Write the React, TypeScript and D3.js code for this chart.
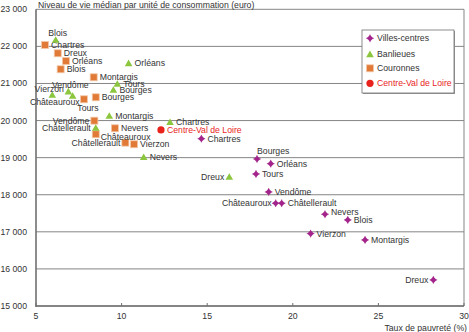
import React from "react";
import * as d3 from "d3";

// [name, taux de pauvreté (%), niveau de vie médian (euro)]
const villesCentres: [string, number, number][] = [
  ["Chartres", 14.66, 19512],
  ["Bourges", 17.91, 18965],
  ["Orléans", 18.71, 18838],
  ["Tours", 17.85, 18561],
  ["Vendôme", 18.59, 18076],
  ["Châteauroux", 19.0, 17771],
  ["Châtellerault", 19.35, 17771],
  ["Nevers", 21.88, 17474],
  ["Blois", 23.21, 17321],
  ["Vierzon", 21.04, 16952],
  ["Montargis", 24.22, 16782],
  ["Dreux", 28.21, 15704],
];

const banlieues: [string, number, number][] = [
  ["Blois", 6.15, 22173],
  ["Orléans", 10.41, 21544],
  ["Tours", 9.75, 20987],
  ["Bourges", 9.52, 20825],
  ["Vierzon", 5.95, 20690],
  ["Vendôme", 6.89, 20779],
  ["Châteauroux", 7.14, 20663],
  ["Montargis", 9.28, 20124],
  ["Châtellerault", 8.49, 19800],
  ["Nevers", 11.29, 19011],
  ["Chartres", 12.83, 19954],
  ["Dreux", 16.29, 18480],
];

const couronnes: [string, number, number][] = [
  ["Chartres", 5.53, 22038],
  ["Dreux", 6.27, 21814],
  ["Orléans", 6.75, 21606],
  ["Blois", 6.44, 21383],
  ["Montargis", 8.37, 21167],
  ["Tours", 7.8, 20574],
  ["Bourges", 8.49, 20628],
  ["Vendôme", 8.41, 19997],
  ["Châteauroux", 8.49, 19631],
  ["Nevers", 9.61, 19792],
  ["Châtellerault", 10.22, 19404],
  ["Vierzon", 10.73, 19361],
];

const region: [string, number, number][] = [["Centre-Val de Loire", 12.3, 19747]];

const xTicks = [5, 10, 15, 20, 25, 30];
const yTicks = [15000, 16000, 17000, 18000, 19000, 20000, 21000, 22000, 23000];

const legendLabels = ["Villes-centres", "Banlieues", "Couronnes", "Centre-Val de Loire"];

// label placement overrides: [dx, dy, anchor]
const labelDefault: [number, number, string] = [6, 0, "start"];
const labelVilles: Record<string, [number, number, string]> = {
  Bourges: [0, -8, "start"],
  Châteauroux: [-4, 0, "end"],
  Dreux: [-5, 0, "end"],
  Nevers: [6, -2, "start"],
};
const labelBanlieues: Record<string, [number, number, string]> = {
  Blois: [2, -7, "middle"],
  Vierzon: [-3, -6, "middle"],
  Vendôme: [2, -7, "middle"],
  Châteauroux: [7, 6, "end"],
  Châtellerault: [-5, 0, "end"],
  Dreux: [-5, 0, "end"],
};
const labelCouronnes: Record<string, [number, number, string]> = {
  Tours: [4, 8.5, "middle"],
  Vendôme: [-5, 0, "end"],
  Châteauroux: [5, 2.5, "start"],
  Châtellerault: [-5, 0.5, "end"],
};

const W = 469;
const H = 332;
const FONT = "'Liberation Sans', Arial, sans-serif";
const FS = 8.7;
const C_VILLE = "#a3268c";
const C_BANL = "#8cc63e";
const C_COUR = "#e07a36";
const C_REG = "#e8231c";

const x = d3.scaleLinear().domain([5, 30]).range([36, 464]);
const y = d3.scaleLinear().domain([15000, 23000]).range([306, 9.3]);

const fmt = (v: number) => d3.format(",")(v).replace(",", " ");

function VilleMarker({ cx, cy }: { cx: number; cy: number }) {
  const r = 3.3;
  const a = 3.8;
  return (
    <g>
      <path d={`M${cx},${cy - r}L${cx + r},${cy}L${cx},${cy + r}L${cx - r},${cy}Z`} fill={C_VILLE} />
      <path
        d={`M${cx - a},${cy}L${cx + a},${cy}M${cx},${cy - a}L${cx},${cy + a}`}
        stroke={C_VILLE}
        strokeWidth={0.8}
      />
    </g>
  );
}

function BanlMarker({ cx, cy }: { cx: number; cy: number }) {
  const s = 3.8;
  return (
    <path
      d={`M${cx},${cy - s}L${cx + s},${cy + s * 0.75}L${cx - s},${cy + s * 0.75}Z`}
      fill={C_BANL}
    />
  );
}

function CourMarker({ cx, cy }: { cx: number; cy: number }) {
  const s = 3.5;
  return (
    <rect x={cx - s} y={cy - s} width={2 * s} height={2 * s} fill={C_COUR} stroke="#f3c8a8" strokeWidth={0.8} />
  );
}

function RegMarker({ cx, cy }: { cx: number; cy: number }) {
  return <circle cx={cx} cy={cy} r={3.6} fill={C_REG} />;
}

function Series({
  data,
  Marker,
  labels,
  color,
}: {
  data: [string, number, number][];
  Marker: any;
  labels: Record<string, [number, number, string]>;
  color: string;
}) {
  return (
    <g>
      {data.map(([n, vx, vy]) => {
        const cx = x(vx);
        const cy = y(vy);
        return <Marker key={"m" + n} cx={cx} cy={cy} />;
      })}
      {data.map(([n, vx, vy]) => {
        const cx = x(vx);
        const cy = y(vy);
        const [dx, dy, anchor] = labels[n] || labelDefault;
        return (
          <text
            key={"t" + n}
            x={cx + dx}
            y={cy + dy + 3.1}
            textAnchor={anchor as any}
            fill={color}
            fontSize={FS}
          >
            {n}
          </text>
        );
      })}
    </g>
  );
}

export default function App() {
  const [x0, x1] = x.range();
  const legendRows = [38.3, 54.3, 68.3, 83.3];
  const legendMarkers = [VilleMarker, BanlMarker, CourMarker, RegMarker];
  return (
    <svg
      width={W}
      height={H}
      style={{ position: "absolute", left: 0, top: 0, background: "#fff" }}
      fontFamily={FONT}
    >
      {/* gridlines */}
      {yTicks.map((t) => (
        <line key={t} x1={x0} x2={x1} y1={y(t)} y2={y(t)} stroke="#858585" strokeWidth={1} />
      ))}
      <line x1={x1} x2={x1} y1={y(23000)} y2={y(15000)} stroke="#858585" strokeWidth={1} />
      {/* axes */}
      <line x1={x0} x2={x0} y1={y(23000)} y2={y(15000) + 1} stroke="#707070" strokeWidth={1.6} />
      <line x1={x0} x2={x1} y1={y(15000)} y2={y(15000)} stroke="#707070" strokeWidth={1.4} />
      {xTicks.map((t) => (
        <g key={t}>
          <line x1={x(t)} x2={x(t)} y1={y(15000)} y2={y(15000) - 3} stroke="#707070" strokeWidth={1} />
          <text x={x(t)} y={319} textAnchor="middle" fontSize={FS} fill="#333">
            {t}
          </text>
        </g>
      ))}
      {yTicks.map((t) => (
        <text key={t} x={27} y={y(t) + 3} textAnchor="end" fontSize={FS} fill="#333">
          {fmt(t)}
        </text>
      ))}
      <text x={38} y={8} fontSize={FS} fill="#333">
        Niveau de vie médian par unité de consommation (euro)
      </text>
      <text x={467} y={330.5} textAnchor="end" fontSize={FS} fill="#333">
        Taux de pauvreté (%)
      </text>

      <Series data={couronnes} Marker={CourMarker} labels={labelCouronnes} color="#333" />
      <Series data={banlieues} Marker={BanlMarker} labels={labelBanlieues} color="#333" />
      <Series data={villesCentres} Marker={VilleMarker} labels={labelVilles} color="#333" />
      <Series data={region} Marker={RegMarker} labels={{}} color={C_REG} />

      {/* legend */}
      <rect x={363} y={31} width={92} height={63} fill="#999" />
      <rect x={362} y={30} width={92} height={63} fill="#fff" stroke="#707070" strokeWidth={0.8} />
      {legendLabels.map((l, i) => {
        const M = legendMarkers[i];
        return (
          <g key={l}>
            <M cx={370} cy={legendRows[i]} />
            <text x={377} y={legendRows[i] + 3.1} fontSize={FS} fill={i === 3 ? C_REG : "#333"}>
              {l}
            </text>
          </g>
        );
      })}
    </svg>
  );
}
